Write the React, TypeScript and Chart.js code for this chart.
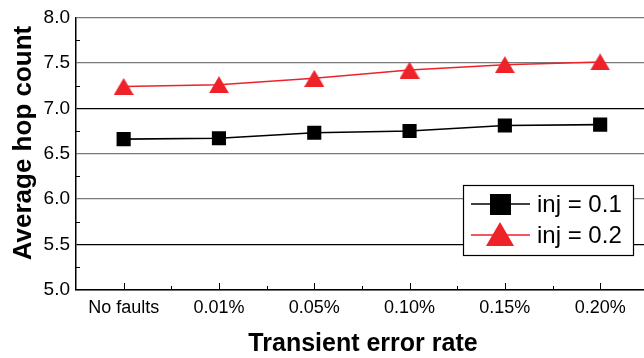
import { useEffect, useRef } from "react";
import { Chart, registerables } from "chart.js";
Chart.register(...registerables);

const categories = ["No faults", "0.01%", "0.05%", "0.10%", "0.15%", "0.20%"];
const inj01 = [6.66, 6.67, 6.73, 6.75, 6.81, 6.82];
const inj02 = [7.24, 7.26, 7.33, 7.42, 7.48, 7.51];
const seriesLabels = ["inj = 0.1", "inj = 0.2"];
const yMin = 5.0;
const yMax = 8.0;
const yStep = 0.5;

const FONT = "'Liberation Sans', Arial, sans-serif";
const RED = "#ee2229";

function makeTriangle(w: number, h: number, color: string) {
  const c = document.createElement("canvas");
  c.width = w;
  c.height = h;
  const g = c.getContext("2d")!;
  g.fillStyle = color;
  g.beginPath();
  g.moveTo(w / 2, 0);
  g.lineTo(w, h);
  g.lineTo(0, h);
  g.closePath();
  g.fill();
  return c;
}

export default function App() {
  const ref = useRef<HTMLCanvasElement | null>(null);
  useEffect(() => {
    document.body.style.margin = "0";
    const canvas = ref.current!;
    const tri = makeTriangle(20, 17, RED);
    const overlay = {
      id: "overlay",
      afterDraw(chart: any) {
        const { ctx, chartArea, scales } = chart;
        const { left, bottom } = chartArea;
        const x = scales.x;
        const y = scales.y;
        ctx.save();
        ctx.strokeStyle = "#000";
        ctx.lineWidth = 1;
        for (let v = yMin + yStep / 2; v < yMax; v += yStep) {
          const py = Math.round(y.getPixelForValue(v)) + 0.5;
          ctx.beginPath();
          ctx.moveTo(left, py);
          ctx.lineTo(left + 4, py);
          ctx.stroke();
        }
        for (let i = 0; i < categories.length; i++) {
          const pMaj = Math.round(x.getPixelForValue(i + 1)) + 0.5;
          ctx.beginPath();
          ctx.moveTo(pMaj, bottom);
          ctx.lineTo(pMaj, bottom - 7);
          ctx.stroke();
          const pMin = Math.round(x.getPixelForValue(i + 1.5)) + 0.5;
          if (pMin < chartArea.right) {
            ctx.beginPath();
            ctx.moveTo(pMin, bottom);
            ctx.lineTo(pMin, bottom - 4);
            ctx.stroke();
          }
        }
        ctx.fillStyle = "#000";
        ctx.font = `bold 25px ${FONT}`;
        ctx.textAlign = "center";
        ctx.textBaseline = "alphabetic";
        ctx.fillText("Transient error rate", 363, 351);
        ctx.save();
        ctx.translate(31, 143);
        ctx.rotate(-Math.PI / 2);
        ctx.font = `bold 26px ${FONT}`;
        ctx.fillText("Average hop count", 0, 0);
        ctx.restore();
        // legend
        const bx = 463, by = 185, bw = 170, bh = 70;
        ctx.fillStyle = "#fff";
        ctx.fillRect(bx, by, bw, bh);
        ctx.strokeStyle = "#000";
        ctx.lineWidth = 1.2;
        ctx.strokeRect(bx + 0.5, by + 0.5, bw, bh);
        const rows = [
          { y: 204, color: "#000", style: "rect" },
          { y: 235, color: RED, style: "triangle" },
        ];
        rows.forEach((r, i) => {
          ctx.strokeStyle = r.color;
          ctx.lineWidth = 1.5;
          ctx.beginPath();
          ctx.moveTo(471, r.y);
          ctx.lineTo(530, r.y);
          ctx.stroke();
          ctx.fillStyle = r.color;
          if (r.style === "rect") {
            ctx.fillRect(490, r.y - 10, 21, 21);
          } else {
            ctx.beginPath();
            ctx.moveTo(500, r.y - 13);
            ctx.lineTo(514, r.y + 11);
            ctx.lineTo(486, r.y + 11);
            ctx.closePath();
            ctx.fill();
          }
          ctx.fillStyle = "#000";
          ctx.font = `24px ${FONT}`;
          ctx.textAlign = "left";
          ctx.textBaseline = "middle";
          ctx.fillText(seriesLabels[i], 537, r.y + 1);
        });
        ctx.restore();
      },
    };
    const chart = new Chart(canvas, {
      type: "line",
      data: {
        datasets: [
          {
            label: seriesLabels[0],
            data: inj01.map((v, i) => ({ x: i + 1, y: v })),
            borderColor: "#000",
            backgroundColor: "#000",
            borderWidth: 1.6,
            pointStyle: "rect",
            pointRadius: 10,
            pointHoverRadius: 10,
            pointBorderWidth: 0,
          },
          {
            label: seriesLabels[1],
            data: inj02.map((v, i) => ({ x: i + 1, y: v })),
            borderColor: RED,
            backgroundColor: RED,
            borderWidth: 1.5,
            pointStyle: tri as any,
            pointRadius: 10,
            pointHoverRadius: 10,
            pointBorderWidth: 0,
          },
        ],
      },
      options: {
        animation: false,
        responsive: false,
        maintainAspectRatio: false,
        layout: { autoPadding: false, padding: { top: 17, right: 0, left: 0, bottom: 0 } },
        plugins: { legend: { display: false }, tooltip: { enabled: false } },
        scales: {
          x: {
            type: "linear",
            min: 0.5,
            max: 6.46,
            afterBuildTicks: (s: any) => {
              s.ticks = categories.map((_, i) => ({ value: i + 1 }));
            },
            afterFit: (s: any) => {
              s.height = 68;
              s.paddingLeft = 0;
              s.paddingRight = 0;
            },
            grid: { display: false, drawTicks: false },
            border: { display: true, color: "#000", width: 1.5 },
            ticks: {
              autoSkip: false,
              maxRotation: 0,
              padding: 7,
              color: "#000",
              font: { family: FONT, size: 18 },
              callback: (v: any) => categories[Math.round(v) - 1] ?? "",
            },
          },
          y: {
            min: yMin,
            max: yMax,
            afterFit: (s: any) => {
              s.width = 76;
            },
            grid: {
              drawTicks: false,
              lineWidth: 1.3,
              color: (c: any) => {
                const v = c.tick?.value;
                if (v === 7 || v === 5.5) return "#000";
                return "#7a7a7a";
              },
            },
            border: { display: true, color: "#000", width: 1.5 },
            ticks: {
              stepSize: yStep,
              padding: 6,
              color: "#000",
              font: { family: FONT, size: 19 },
              callback: (v: any) => Number(v).toFixed(1),
            },
          },
        },
      },
      plugins: [overlay],
    });
    return () => chart.destroy();
  }, []);
  return <canvas ref={ref} width={644} height={358} style={{ display: "block" }} />;
}
